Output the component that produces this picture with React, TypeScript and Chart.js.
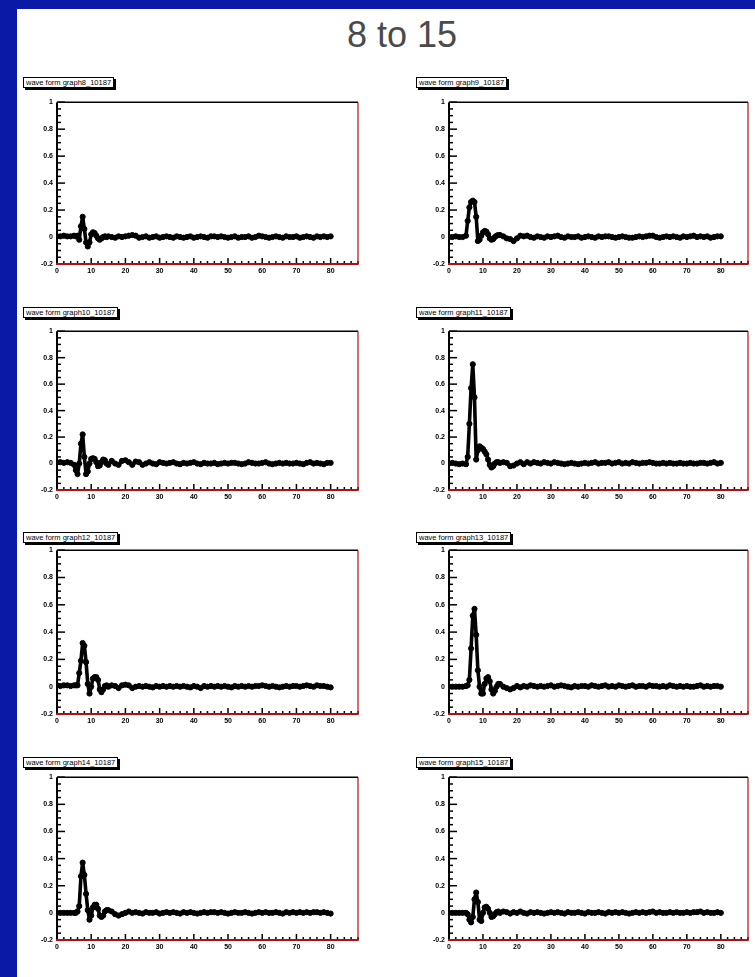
import React, { useEffect, useRef } from "react";
import { Chart, registerables } from "chart.js";

Chart.register(...registerables);

// ---------- data ----------
const TITLE = "8 to 15";

const PANEL_TITLES = [
  "wave form graph8_10187",
  "wave form graph9_10187",
  "wave form graph10_10187",
  "wave form graph11_10187",
  "wave form graph12_10187",
  "wave form graph13_10187",
  "wave form graph14_10187",
  "wave form graph15_10187",
];

const X_TICKS = [0, 10, 20, 30, 40, 50, 60, 70, 80];
const Y_TICKS = [-0.2, 0, 0.2, 0.4, 0.6, 0.8, 1];
const Y_TICK_LABELS = ["-0.2", "0", "0.2", "0.4", "0.6", "0.8", "1"];

// sample positions (time)
const X = [
  0, 1, 2, 3, 4, 5,
  5.5, 6, 6.5, 7, 7.5, 8, 8.5, 9, 9.5, 10, 10.5, 11, 11.5, 12, 12.5, 13, 13.5, 14, 14.5,
  15, 16, 17, 18, 19, 20, 21, 22, 23, 24, 25,
  26, 27, 28, 29, 30, 31, 32, 33, 34, 35, 36,
  37, 38, 39, 40, 41, 42, 43, 44, 45, 46, 47,
  48, 49, 50, 51, 52, 53, 54, 55, 56, 57, 58,
  59, 60, 61, 62, 63, 64, 65, 66, 67, 68, 69,
  70, 71, 72, 73, 74, 75, 76, 77, 78, 79, 80,
];

const GRAPH8 = [
  0.005, 0.005, 0.01, 0.005, 0.005, 0.01,
  0.005, 0.01, -0.02, 0.08, 0.15, 0.06, -0.04, -0.07, -0.04, 0.02, 0.035, 0.03, 0.01, -0.01, -0.02, -0.01, 0, 0.005, 0,
  0.005, 0, -0.005, 0.005, 0, 0.005, 0.01, 0.015, 0.01, -0.005, 0,
  0.005, -0.005, 0, 0.005, -0.005, 0, 0.005, 0, -0.005, 0.005, 0,
  -0.005, 0, 0.005, -0.005, 0, 0.005, 0, -0.005, 0.005, 0.005, 0,
  0.005, 0, -0.005, 0, 0.005, -0.005, 0, 0, 0.005, -0.005, 0,
  0.01, 0.005, 0, -0.005, 0, 0.005, 0, -0.005, 0.005, 0, 0,
  0.005, -0.005, 0, 0.005, 0, -0.005, 0.005, 0, 0.005, 0, 0.005,
];

const GRAPH9 = [
  0, 0, 0.005, 0, 0, 0.01,
  0.12, 0.22, 0.26, 0.27, 0.26, 0.15, -0.03, -0.02, 0.01, 0.035, 0.045, 0.04, 0.02, -0.01, -0.02, -0.015, 0, 0.01, 0.015,
  0.015, 0.005, -0.01, -0.015, -0.03, -0.01, 0.01, 0.005, 0.01, 0, -0.005,
  0.005, 0, -0.005, 0.005, 0, 0.005, 0.01, 0, -0.005, 0.005, 0,
  0, 0.005, -0.005, 0, 0.005, 0, -0.005, 0.005, 0, 0.005, 0.005,
  0, -0.005, 0, 0.005, 0, -0.005, -0.005, 0, 0.005, 0, 0.005,
  0.01, 0.01, 0, -0.005, 0, 0.005, 0, 0.005, 0, -0.005, 0.005,
  0, 0.005, 0.01, 0, 0.005, 0, 0.005, -0.005, 0, 0.005, 0.005,
];

const GRAPH10 = [
  0.01, 0.01, 0.005, 0.01, 0.005, -0.01,
  -0.05, -0.08, 0, 0.15, 0.22, 0.05, -0.08, -0.06, 0, 0.035, 0.04, 0.035, 0.01, -0.02, -0.015, 0.01, 0.03, 0.025, 0,
  -0.01, 0.02, 0, -0.01, 0.02, 0.025, 0.01, -0.01, 0.015, 0.01, -0.01,
  0, 0.01, 0, -0.005, 0.01, 0.005, 0, 0.005, 0.01, 0, -0.005,
  0.005, 0, 0.005, 0.01, 0, -0.005, 0.005, 0, 0, 0.005, -0.005,
  0, 0.005, 0, 0.005, 0.005, 0, -0.005, 0, 0.01, 0.005, 0,
  0, 0.005, 0.01, 0, -0.005, 0, 0.005, 0, 0.005, 0, 0,
  0.005, 0, -0.005, 0.005, 0.01, 0, 0.005, 0, -0.005, 0.005, 0.005,
];

const GRAPH11 = [
  0, 0.005, 0, -0.005, 0, -0.005,
  0.05, 0.3, 0.57, 0.75, 0.5, 0.03, 0.1, 0.13, 0.12, 0.11, 0.09, 0.07, 0.03, -0.01, -0.03, -0.02, 0, 0.01, 0.01,
  0.005, 0.01, 0.005, -0.02, -0.015, 0, 0.01, -0.005, 0.01, 0, 0.01,
  0.005, 0, 0.01, 0.005, 0, 0.01, 0.005, 0, -0.005, 0, 0.005,
  0, -0.005, 0, 0.005, 0, 0.005, 0.01, 0, 0.005, 0.005, 0.01,
  0, 0.005, 0.01, 0, 0.005, 0, 0.01, 0.005, 0, 0.005, 0.005,
  0.01, 0.005, 0, 0, 0.005, 0, 0.005, 0, 0, 0.005, 0,
  0, 0.005, 0, 0, 0.005, 0.005, 0, 0.005, 0.01, 0, 0.005,
];

const GRAPH12 = [
  0.01, 0.005, 0.01, 0.01, 0.005, 0.01,
  0.01, 0.01, 0.1, 0.19, 0.32, 0.3, 0.18, 0.02, -0.05, 0, 0.06, 0.07, 0.07, 0.05, -0.02, -0.04, -0.02, 0.005, 0.01,
  0, 0.01, 0.005, -0.01, 0.01, 0.015, 0.01, -0.01, 0, 0.005, 0,
  0.005, 0, -0.005, 0.005, 0, 0.005, 0, 0.005, 0, 0.005, 0,
  0.005, 0, -0.005, 0.005, 0, -0.01, 0.005, 0, 0.005, 0, 0.005,
  0, 0.005, 0, -0.005, 0.005, 0, 0.005, 0, 0.005, 0, 0.005,
  0.005, 0.01, 0.005, 0, 0.005, 0, -0.005, 0, 0.005, 0, 0.005,
  0.005, 0, 0.005, 0.01, 0.005, 0, 0.01, 0.005, 0.005, 0, -0.005,
];

const GRAPH13 = [
  0, 0, 0, 0, 0, 0.005,
  0.01, 0.05, 0.28, 0.52, 0.57, 0.38, 0.12, 0, -0.05, -0.05, 0.02, 0.06, 0.07, 0.04, -0.02, -0.05, -0.03, 0, 0.02,
  0.02, 0, -0.01, -0.02, -0.01, 0.005, -0.005, 0.005, 0, 0.01, 0.005,
  0, 0.005, 0, 0.005, 0.01, 0, 0.005, 0.01, 0.005, 0, -0.005,
  0.005, 0, 0.005, 0.005, 0, 0.01, 0.005, 0, 0.005, 0.01, 0,
  0.005, 0, 0.01, 0.005, 0, 0.005, 0.01, 0, 0.005, 0.005, 0,
  0.01, 0.005, 0.005, 0, 0.005, 0, 0.01, 0.005, 0, 0.005, 0,
  0.005, 0, 0, 0.005, 0.01, 0, 0.005, 0, 0.005, 0.005, 0,
];

const GRAPH14 = [
  0, 0, 0, 0, 0, 0,
  0, 0.01, 0.05, 0.27, 0.37, 0.28, 0.14, 0.02, -0.05, -0.02, 0.04, 0.06, 0.06, 0.03, -0.02, -0.03, -0.02, 0.01, 0.02,
  0.02, 0.01, -0.01, -0.02, -0.01, 0, 0.01, 0, 0.005, 0, -0.005,
  0.005, 0, 0, 0.005, -0.005, 0, 0.005, 0, 0.005, 0, -0.005,
  0.005, 0, 0.005, 0, -0.005, 0, 0.005, 0, 0.005, 0.005, 0,
  0.005, 0, -0.005, 0, 0.005, 0, 0, 0.005, 0, -0.005, 0,
  0.005, 0, 0.005, 0, 0, 0.005, 0, -0.005, 0.005, 0, 0.005,
  0, 0.005, 0, 0.005, 0, 0.005, 0.005, 0, 0.005, 0, -0.005,
];

const GRAPH15 = [
  0, 0, 0, 0, 0, 0,
  -0.01, -0.05, -0.07, -0.03, 0.1, 0.15, 0.08, -0.05, -0.06, 0, 0.04, 0.045, 0.03, 0, -0.03, -0.025, -0.01, 0.005, 0.01,
  0, 0.01, 0.005, -0.005, 0.005, 0, 0.01, 0, -0.005, 0.005, 0,
  0.005, 0, -0.005, 0, 0.005, 0, 0.005, 0, -0.005, 0.005, 0,
  0, 0.005, 0, -0.005, 0.005, 0, 0, 0.005, 0, -0.005, 0.005,
  0, 0.005, 0, 0.005, 0, -0.005, 0, 0.005, 0, 0.005, 0,
  0.005, 0.01, 0, 0.005, 0, 0, 0.005, 0, 0.005, 0, 0,
  0.005, 0, 0.005, 0.005, 0.01, 0, 0.005, 0, 0, 0.005, 0,
];

const SERIES = [GRAPH8, GRAPH9, GRAPH10, GRAPH11, GRAPH12, GRAPH13, GRAPH14, GRAPH15];

// ---------- layout ----------
const X_MIN = 0;
const X_MAX = 88;
const Y_MIN = -0.2;
const Y_MAX = 1;

const FRAMES = [
  { left: 57, top: 100, w: 302, h: 164 },
  { left: 449, top: 100, w: 300, h: 164 },
  { left: 57, top: 329, w: 302, h: 161 },
  { left: 449, top: 329, w: 300, h: 161 },
  { left: 57, top: 548, w: 302, h: 166 },
  { left: 449, top: 548, w: 300, h: 166 },
  { left: 57, top: 775, w: 302, h: 165 },
  { left: 449, top: 775, w: 300, h: 165 },
];

const LABELS_POS = [
  { left: 23, top: 77 },
  { left: 416, top: 77 },
  { left: 23, top: 307 },
  { left: 416, top: 307 },
  { left: 23, top: 532 },
  { left: 416, top: 532 },
  { left: 23, top: 757 },
  { left: 416, top: 757 },
];

const Y_AXIS_W = 24;
const X_AXIS_H = 14;
const PAD_TOP = 6;
const PAD_RIGHT = 4;
const FONT = "'Liberation Sans', Arial, Helvetica, sans-serif";
const RED = "#b01010";

const framePlugin = {
  id: "rootFrame",
  afterDatasetsDraw(chart: any) {
    const { ctx, chartArea: a, scales } = chart;
    const xs = scales.x;
    const ys = scales.y;
    ctx.save();
    ctx.lineCap = "butt";
    ctx.strokeStyle = "#000";
    ctx.lineWidth = 1.5;
    for (let k = 0; k <= 24; k++) {
      const v = Y_MIN + k * 0.05;
      const py = ys.getPixelForValue(v);
      const len = k % 4 === 0 ? 8 : 4;
      ctx.beginPath();
      ctx.moveTo(a.left, py);
      ctx.lineTo(a.left + len, py);
      ctx.stroke();
    }
    for (let k = 0; k * 2 <= X_MAX; k++) {
      const v = k * 2;
      const px = xs.getPixelForValue(v);
      const len = v % 10 === 0 ? 6 : 3;
      ctx.beginPath();
      ctx.moveTo(px, a.bottom);
      ctx.lineTo(px, a.bottom - len);
      ctx.stroke();
    }
    ctx.strokeStyle = "#000";
    ctx.lineWidth = 1.4;
    ctx.beginPath();
    ctx.moveTo(a.left, a.top);
    ctx.lineTo(a.right, a.top);
    ctx.stroke();
    ctx.lineWidth = 2;
    ctx.beginPath();
    ctx.moveTo(a.left, a.top);
    ctx.lineTo(a.left, a.bottom);
    ctx.stroke();
    ctx.strokeStyle = RED;
    ctx.lineWidth = 1.2;
    ctx.beginPath();
    ctx.moveTo(a.right, a.top);
    ctx.lineTo(a.right, a.bottom);
    ctx.stroke();
    ctx.lineWidth = 2.2;
    ctx.beginPath();
    ctx.moveTo(a.left - 1, a.bottom);
    ctx.lineTo(a.right + 0.6, a.bottom);
    ctx.stroke();
    ctx.restore();
  },
};

function Panel({ values, frame }: { values: number[]; frame: { left: number; top: number; w: number; h: number } }) {
  const ref = useRef<HTMLCanvasElement>(null);
  const cw = frame.w + Y_AXIS_W + PAD_RIGHT;
  const ch = frame.h + PAD_TOP + X_AXIS_H;

  useEffect(() => {
    if (!ref.current) return;
    const tickFont = { size: 7, family: FONT, weight: "bold" as const };
    const chart = new Chart(ref.current, {
      type: "line",
      data: {
        datasets: [
          {
            data: X.map((x, i) => ({ x, y: values[i] })),
            borderColor: "#000",
            borderWidth: 3.6,
            borderJoinStyle: "round",
            borderCapStyle: "round",
            pointRadius: 2.6,
            pointBorderWidth: 1,
            pointBackgroundColor: "#000",
            pointBorderColor: "#000",
            tension: 0,
            fill: false,
          },
        ],
      },
      options: {
        animation: false,
        responsive: false,
        maintainAspectRatio: false,
        events: [],
        layout: { padding: { top: PAD_TOP, right: PAD_RIGHT, left: 0, bottom: 0 } },
        plugins: { legend: { display: false }, tooltip: { enabled: false }, title: { display: false } },
        scales: {
          x: {
            type: "linear",
            min: X_MIN,
            max: X_MAX,
            afterBuildTicks: (s: any) => {
              s.ticks = X_TICKS.map((v) => ({ value: v }));
            },
            afterFit: (s: any) => {
              s.height = X_AXIS_H;
            },
            grid: { display: false, drawTicks: false },
            border: { display: false },
            ticks: {
              font: tickFont,
              color: "#000",
              padding: 3,
              maxRotation: 0,
              autoSkip: false,
              callback: (v: any) => String(v),
            },
          },
          y: {
            type: "linear",
            min: Y_MIN,
            max: Y_MAX,
            afterBuildTicks: (s: any) => {
              s.ticks = Y_TICKS.map((v) => ({ value: v }));
            },
            afterFit: (s: any) => {
              s.width = Y_AXIS_W;
            },
            grid: { display: false, drawTicks: false },
            border: { display: false },
            ticks: {
              font: tickFont,
              color: "#000",
              padding: 4,
              autoSkip: false,
              callback: (_v: any, idx: number) => Y_TICK_LABELS[idx],
            },
          },
        },
      },
      plugins: [framePlugin],
    });
    return () => chart.destroy();
  }, [values]);

  return (
    <canvas
      ref={ref}
      width={cw}
      height={ch}
      style={{
        position: "absolute",
        left: frame.left - Y_AXIS_W,
        top: frame.top - PAD_TOP,
        width: cw,
        height: ch,
      }}
    />
  );
}

export default function App() {
  return (
    <div style={{ position: "absolute", left: 0, top: 0, width: 755, height: 977, background: "#0a1aa6", overflow: "hidden" }}>
      <div style={{ position: "absolute", left: 17, top: 9, right: 0, bottom: 0, background: "#fff" }} />
      <div
        style={{
          position: "absolute",
          left: 402,
          top: 14,
          transform: "translateX(-50%)",
          fontFamily: FONT,
          fontSize: 36,
          color: "#4a4a4a",
          whiteSpace: "nowrap",
          lineHeight: "normal",
        }}
      >
        {TITLE}
      </div>
      {SERIES.map((vals, i) => (
        <React.Fragment key={i}>
          <div
            style={{
              position: "absolute",
              left: LABELS_POS[i].left,
              top: LABELS_POS[i].top,
              background: "#fff",
              border: "1px solid #000",
              boxShadow: "2px 2px 0 #000",
              fontFamily: FONT,
              fontSize: 7.5,
              lineHeight: "9px",
              padding: "0 2px",
              color: "#000",
              whiteSpace: "nowrap",
            }}
          >
            {PANEL_TITLES[i]}
          </div>
          <Panel values={vals} frame={FRAMES[i]} />
        </React.Fragment>
      ))}
    </div>
  );
}
